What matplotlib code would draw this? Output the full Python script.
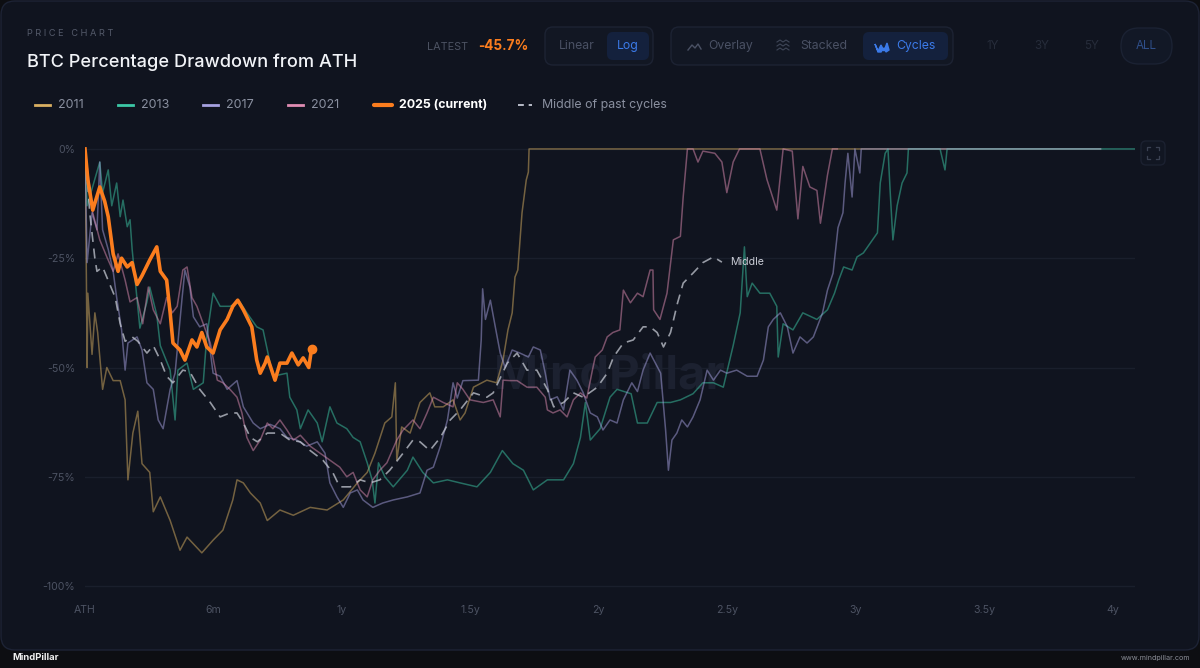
import matplotlib
matplotlib.use("Agg")
import matplotlib.pyplot as plt
from matplotlib.patches import FancyBboxPatch

plt.rcParams['font.family'] = ['Inter', 'DejaVu Sans']

# ---- data: days since ATH, drawdown in percent ----
d2011 = [0, 2, 3, 4, 10, 14, 18, 25, 31, 40, 50, 57, 61, 68, 75, 81, 92, 97, 107, 121, 135, 145, 166, 182,
         196, 210, 216, 225, 235, 249, 259, 277, 296, 320, 344, 367, 387, 401, 412, 426, 436, 441, 443, 450,
         462, 476, 490, 497, 509, 523, 533, 540, 552, 571, 585, 594, 601, 607, 611, 615, 621, 627, 630, 631, 1443]
p2011 = [0, -30, -50, -33, -47, -37.5, -42, -55, -50, -53, -53, -57.4, -75.7, -65, -60, -72, -74, -83, -79.6, -85,
         -91.8, -88.8, -92.4, -89.5, -87.2, -80.3, -75.7, -76.4, -78.7, -81, -85, -82.6, -83.8, -82, -82.6, -80.3,
         -76.4, -74, -69.6, -62.7, -61.3, -53.5, -71.2, -63.6, -65, -58, -55.8, -59, -59, -57.4, -62, -60.4, -54.5,
         -52.9, -53.5, -48.3, -41.4, -37.5, -29.3, -27.7, -14.6, -7.1, -5.3, 0, 0]

d2013 = [0, 3, 21, 25, 33, 38, 45, 50, 54, 60, 64, 67, 78, 88, 92, 102, 107, 121, 128, 132, 145, 154, 168, 173,
         182, 192, 206, 220, 230, 244, 253, 267, 287, 291, 301, 306, 317, 330, 337, 348, 358, 372, 381, 391, 401,
         408, 412, 417, 426, 438, 458, 466, 480, 495, 515, 533, 557, 576, 593, 608, 623, 637, 657, 680, 694, 704,
         711, 718, 732, 746, 756, 776, 785, 799, 813, 832, 846, 864, 878, 893, 907, 921, 931, 937, 941, 948, 959,
         973, 983, 985, 992, 1006, 1020, 1040, 1055, 1065, 1071, 1078, 1090, 1097, 1106, 1116, 1126, 1130, 1137,
         1141, 1144, 1148, 1154, 1161, 1168, 1170, 1215, 1222, 1225, 1492]
p2013 = [0, -13, -3, -10, -4.8, -13, -7.8, -15.5, -11.7, -17.8, -16.2, -23, -41, -35, -31.6, -38, -45, -50.6, -62,
         -50.6, -49, -55, -53.5, -43, -33, -36, -36, -35, -37.5, -40.7, -41.4, -52, -51.3, -56.8, -59.7, -64, -59.7,
         -62.7, -67, -59, -62.7, -64, -66, -67, -71.8, -75.7, -81, -71.8, -75, -77.3, -73.5, -70.5, -74, -76.4,
         -75.7, -76.4, -77.3, -74, -69, -72, -73.5, -78, -75.7, -75.7, -72, -66, -58, -66.6, -64, -56.8, -55, -56,
         -62.7, -62.7, -58, -58, -57.4, -56, -53.5, -53.5, -54.5, -45, -37.5, -22.4, -33.8, -30.7, -33, -33, -36,
         -47.6, -40, -41.4, -37.5, -39, -36.8, -33, -30, -27, -27.7, -24.7, -23.8, -21.5, -19.2, -7.8, -1, 0, -9.4,
         -20.8, -13, -7.8, -5.5, 0, 0, -4.8, 0, 0]

d2017 = [0, 3, 10, 17, 21, 25, 33, 40, 45, 52, 57, 61, 74, 81, 88, 97, 104, 111, 121, 128, 138, 142, 149, 154,
         163, 173, 182, 192, 202, 216, 225, 239, 249, 263, 277, 287, 301, 315, 330, 341, 348, 358, 367, 377, 387,
         395, 409, 423, 438, 458, 476, 486, 495, 505, 515, 523, 529, 537, 559, 563, 565, 569, 576, 583, 590, 597,
         607, 618, 630, 637, 647, 654, 661, 671, 680, 689, 699, 708, 718, 728, 736, 746, 756, 765, 777, 785, 793,
         803, 818, 820, 825, 829, 834, 841, 848, 856, 864, 874, 884, 893, 903, 912, 926, 941, 955, 964, 971, 978,
         988, 998, 1006, 1016, 1026, 1035, 1048, 1055, 1063, 1070, 1077, 1080, 1084, 1090, 1094, 1101, 1103, 1443]
p2017 = [0, -26, -14.6, -18.5, -3, -18.5, -23, -28, -34, -41.4, -50.6, -44.4, -43, -46, -53.5, -55, -62, -64, -55,
         -51.3, -34, -27.7, -31.6, -38.4, -40.7, -40, -51.3, -52, -55, -53, -59, -62.7, -64, -63, -64, -66, -66.6,
         -68, -67, -69.6, -76.4, -79.6, -82, -78.7, -78, -80.3, -82, -81, -80.3, -79.6, -78.7, -73.5, -72.8, -68,
         -62, -53.5, -57, -53, -52.9, -43.7, -32, -39, -34.6, -40.7, -46.7, -50, -46, -46.7, -47.6, -45.3, -46,
         -51.3, -57.4, -56.7, -59.7, -50.6, -52.9, -55.8, -60.4, -61.3, -64.3, -62, -62.7, -57.4, -53.5, -55.5,
         -50.6, -46.7, -51.3, -55, -64.3, -73.5, -66.6, -65, -62, -63.6, -61.3, -57.4, -50.6, -52.9, -50.6, -51.3,
         -50.6, -52, -52, -48.3, -40.7, -39, -37.5, -40.7, -46.7, -43, -44.4, -43, -37.5, -32.3, -28.4, -18, -14.6,
         -7.8, -1, -11, 0, -5.5, 0, 0]

d2021 = [0, 11, 21, 31, 40, 47, 57, 64, 74, 82, 90, 97, 107, 116, 124, 131, 139, 145, 152, 159, 168, 178, 188,
         196, 206, 216, 223, 230, 239, 249, 259, 267, 277, 287, 296, 306, 320, 334, 348, 362, 372, 381, 391, 401,
         409, 419, 429, 443, 452, 466, 476, 486, 495, 509, 523, 529, 537, 547, 566, 580, 590, 594, 604, 614, 628,
         642, 654, 657, 665, 675, 685, 694, 704, 713, 721, 725, 735, 742, 750, 760, 765, 775, 785, 793, 803, 807,
         808, 817, 827, 836, 846, 850, 856, 864, 871, 878, 895, 905, 912, 921, 930, 959, 969, 983, 992, 1005,
         1013, 1020, 1030, 1040, 1045, 1055, 1062, 1069]
p2021 = [0, -14.6, -20.8, -24.7, -28, -24, -30, -35, -34, -40, -31.6, -36.8, -40, -34, -37.5, -36, -27.7, -27, -34,
         -36, -40, -44.4, -52.9, -53.5, -55, -56.8, -60.4, -66, -69, -66.6, -62.7, -64, -62, -64.3, -66.6, -65.5,
         -68, -69.6, -71.2, -72.8, -75, -74, -78, -79.6, -75.7, -73.5, -71.8, -66.6, -64.3, -62, -64, -60.4, -56.8,
         -58, -59, -53.5, -55, -57.4, -58, -57.4, -61.3, -52.9, -53, -53, -54.5, -54.5, -56.8, -59.7, -60.4, -59.7,
         -61.3, -57.4, -55.8, -57, -50.6, -47.6, -46, -43, -42, -41.4, -32.3, -35.2, -33, -33.8, -27.7, -27.7,
         -36.8, -39, -33, -20.8, -20, -11, 0, 0, -3, -0.5, -1, -3, -10, -3, 0, 0, -7, -14, 0, -0.5, -16, -4, -8.7,
         -9.5, -17, -6, 0, 0]

d2025 = [0, 4, 11, 21, 28, 33, 40, 47, 52, 60, 67, 74, 81, 92, 102, 107, 116, 121, 125, 135, 142, 152, 159, 166,
         173, 182, 192, 202, 210, 217, 225, 237, 244, 249, 256, 259, 270, 277, 287, 294, 303, 310, 318, 322]
p2025 = [0, -7, -14, -8.7, -12, -15.5, -24, -28, -25, -27, -26, -31, -29, -25.4, -22.4, -28, -30, -37.5, -44.4, -46,
         -48.3, -43.7, -45.3, -42, -45.3, -46.7, -41.4, -39, -36, -34.6, -36.8, -40.7, -48.3, -51.3, -49, -47.6,
         -52.9, -49, -49, -46.7, -49.4, -47.8, -50, -45.7]

d_mid = [0, 7, 14, 17, 25, 43, 50, 57, 67, 75, 88, 97, 107, 116, 125, 139, 149, 163, 178, 192, 206, 216, 225, 235,
         245, 259, 277, 291, 306, 320, 338, 352, 362, 377, 391, 405, 419, 433, 452, 466, 476, 490, 505, 519, 533,
         552, 571, 580, 600, 614, 628, 642, 657, 666, 680, 694, 708, 728, 742, 751, 765, 779, 793, 803, 813, 822,
         832, 842, 850, 864, 878, 893, 905]
p_mid = [0, -15, -25, -28, -27, -34, -40, -44, -43, -44, -46.7, -45, -48.3, -52, -53.5, -50.6, -51, -55, -58, -61.3,
         -60.4, -60.4, -62.7, -66, -67, -65, -65, -66.6, -67, -69, -71.2, -74, -77.3, -77.3, -75.7, -76.4, -75.7,
         -73.5, -69.6, -66.6, -67, -69, -66, -62, -59.7, -55.8, -56.8, -55.8, -49, -46.7, -50.6, -50.6, -55, -59,
         -58, -55.8, -56.8, -54.5, -51.3, -47.6, -44.4, -43.7, -40.7, -40.7, -42, -45.3, -42, -35.2, -30.7, -28.4,
         -26, -24.7, -25.9]

latest = -45.7
y_ticks = [0, -25, -50, -75, -100]
y_labels = ["0%", "-25%", "-50%", "-75%", "-100%"]
x_ticks = [0, 182.5, 365, 547.5, 730, 912.5, 1095, 1277.5, 1460]
x_labels = ["ATH", "6m", "1y", "1.5y", "2y", "2.5y", "3y", "3.5y", "4y"]

cycles = [("2011", d2011, p2011, "#d9b062"),
          ("2013", d2013, p2013, "#3cc8a6"),
          ("2017", d2017, p2017, "#a6a1e0"),
          ("2021", d2021, p2021, "#e08db3")]
c2025 = "#fb7d1e"

BG = "#10141f"
GRID = "#1a1f2c"
MUTED = "#4d5363"

fig = plt.figure(figsize=(12, 6.68), dpi=100)
fig.patch.set_facecolor("#0d0e12")

# pixel-space layer for the card / controls
bg = fig.add_axes([0, 0, 1, 1], zorder=0)
bg.set_xlim(0, 1200)
bg.set_ylim(668, 0)
bg.axis("off")

def box(x0, y0, x1, y1, fc, ec, r=8, lw=1):
    bg.add_patch(FancyBboxPatch((x0, y0), x1 - x0, y1 - y0,
                                boxstyle=f"round,pad=0,rounding_size={r}",
                                fc=fc, ec=ec, lw=lw))

box(1, 1, 1199, 650, BG, "#1d2335", r=14)

bg.text(27, 33, "P R I C E   C H A R T", fontsize=6.6, color="#555b6b", va="center")
bg.text(27, 62, "BTC Percentage Drawdown from ATH", fontsize=13.1, color="#f1f3f7",
        weight=500, va="center")

bg.text(427, 47, "LATEST", fontsize=7.8, color=MUTED, va="center")
bg.text(478, 46, f"{latest}%", fontsize=9.8, color=c2025, weight="bold", va="center")

box(545, 27, 653, 65, "#121723", "#1d2333")
box(607, 32, 649, 60, "#14213d", "none", r=6)
bg.text(577, 46, "Linear", fontsize=8.8, color="#4a5164", ha="center", va="center")
bg.text(628, 46, "Log", fontsize=8.8, color="#3b7ae8", ha="center", va="center")

box(671, 27, 953, 65, "#121723", "#1d2333")
box(863, 32, 948, 60, "#14213d", "none", r=6)
bg.plot([688, 692, 695, 698, 701], [50, 45, 48, 44, 49], color="#4a5164", lw=1)
bg.text(708, 46, "Overlay", fontsize=8.8, color="#4a5164", va="center")
for yy in (42, 46, 50):
    bg.plot([777, 780, 783, 786, 789], [yy, yy - 2, yy, yy - 2, yy], color="#3f4658", lw=0.8)
bg.text(800, 46, "Stacked", fontsize=8.8, color="#4a5164", va="center")
bg.fill([875, 878, 881, 884, 887, 889, 886, 884, 881, 878], [44, 51, 45, 51, 43, 50, 52, 48, 52, 52],
        color="#3b7ae8")
bg.text(896, 46, "Cycles", fontsize=8.8, color="#3b7ae8", va="center")

for xx, lab in zip([993, 1042, 1092], ["1Y", "3Y", "5Y"]):
    bg.text(xx, 46, lab, fontsize=8.4, color="#262c3a", ha="center", va="center")
box(1121, 28, 1172, 64, "#121826", "#1b2233", r=18)
bg.text(1146, 46, "ALL", fontsize=8.4, color="#2f4f8a", ha="center", va="center")

# legend row
leg_x = [35, 118, 203, 288]
for (name, _, _, col), lx in zip(cycles, leg_x):
    bg.plot([lx, lx + 15], [105, 105], color=col, lw=2)
    bg.text(lx + 23, 105, name, fontsize=9.0, color="#8a90a0", va="center")
bg.plot([374, 392], [105, 105], color=c2025, lw=3, solid_capstyle="round")
bg.text(399, 105, "2025 (current)", fontsize=8.9, color="#ffffff", weight="bold", va="center")
bg.plot([518, 532], [105, 105], color="#b8bcc8", lw=1.4, ls=(0, (3, 2.5)))
bg.text(542, 105, "Middle of past cycles", fontsize=8.9, color="#8a90a0", va="center")

# expand icon
box(1141, 141, 1165, 165, "#111622", "#1b2130", r=5)
for cx, cy, sx, sy in [(1147, 147, 1, 1), (1159, 147, -1, 1), (1147, 159, 1, -1), (1159, 159, -1, -1)]:
    bg.plot([cx, cx, cx + 3 * sx], [cy + 3 * sy, cy, cy], color="#3a4152", lw=0.9)

# footer
bg.text(12, 658, "MindPillar", fontsize=6.8, color="#f0f0f0", weight="bold", va="center")
bg.text(1190, 658, "www.mindpillar.com", fontsize=5.2, color="#8a8d96", ha="right", va="center")

# ---- chart ----
ax = fig.add_axes([85 / 1200, 1 - 590 / 668, 1050 / 1200, 445 / 668], zorder=2)
ax.set_facecolor("none")
ax.set_xlim(0, 1492)
ax.set_ylim(-100.9, 0.9)
for s in ax.spines.values():
    s.set_visible(False)

for yt in y_ticks:
    ax.axhline(yt, color=GRID, lw=1, zorder=1)

ax.text(746, -52, "MindPillar", fontsize=34, weight="bold", color="#1c2130",
        ha="center", va="center", zorder=1)

for name, d, p, col in cycles:
    ax.plot(d, p, color=col, lw=1.1, alpha=0.5, zorder=3)

ax.plot(d_mid, p_mid, color="#c4c8d2", lw=1.2, alpha=0.75, ls=(0, (6, 4)), zorder=4)
ax.text(d_mid[-1] + 12, p_mid[-1], "Middle", fontsize=7.6, color="#c9ccd5", va="center", zorder=4)

ax.plot(d2025, p2025, color=c2025, lw=2.6, zorder=5, solid_joinstyle="round")
ax.plot(d2025[-1], p2025[-1], "o", color=c2025, ms=6, zorder=6)

ax.set_yticks(y_ticks)
ax.set_yticklabels(y_labels)
ax.set_xticks(x_ticks)
ax.set_xticklabels(x_labels)
ax.tick_params(length=0, colors=MUTED, labelsize=7.6)
ax.tick_params(axis="y", pad=7)
ax.tick_params(axis="x", pad=11)

fig.savefig("out.png", dpi=100, facecolor=fig.get_facecolor())
